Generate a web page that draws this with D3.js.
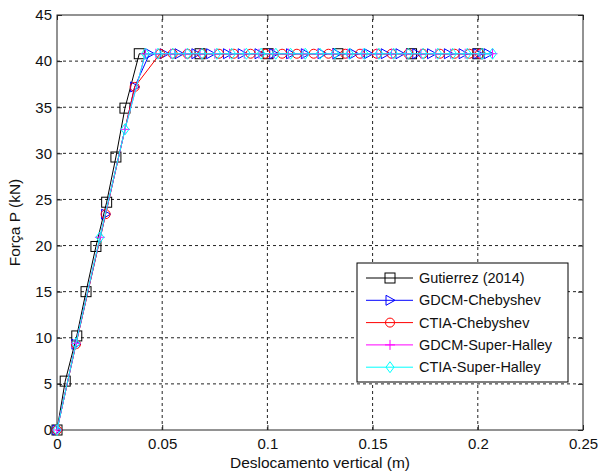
<!DOCTYPE html>
<html lang="en">
<head>
  <meta charset="UTF-8" />
  <title>Força x Deslocamento</title>
  <script src="https://d3js.org/d3.v7.min.js"></script>
  <style>
    body { margin:0; padding:0; background:#fff; font-family:"Liberation Sans", Arial, sans-serif; }
    svg { display:block; }
    .tick text { fill:#111; }
    .grid line { stroke:#222; stroke-dasharray:3,3; stroke-width:1; }
    .lbl { font-size:15.5px; fill:#111; }
    .leg { font-size:14.5px; fill:#111; }
  </style>
</head>
<body>
<svg width="598" height="475"></svg>
<script>
// Gutierrez (2014)
const gutX = [0, 0.0039, 0.0094, 0.0138, 0.0185, 0.0236, 0.028, 0.0323, 0.0391, 0.068, 0.1003, 0.1335, 0.1685, 0.2];
const gutY = [0, 5.3, 10.2, 15.0, 19.9, 24.7, 29.6, 34.9, 40.8, 40.8, 40.8, 40.8, 40.8, 40.8];
// GDCM-Chebyshev
const gdcmChX = [0, 0.009, 0.0231, 0.0369, 0.044, 0.051, 0.058, 0.066, 0.073, 0.081, 0.088, 0.096, 0.103, 0.111, 0.118, 0.126, 0.133, 0.141, 0.148, 0.156, 0.163, 0.171, 0.178, 0.186, 0.193, 0.2, 0.205];
const gdcmChY = [0, 9.3, 23.4, 37.2, 40.8, 40.8, 40.8, 40.8, 40.8, 40.8, 40.8, 40.8, 40.8, 40.8, 40.8, 40.8, 40.8, 40.8, 40.8, 40.8, 40.8, 40.8, 40.8, 40.8, 40.8, 40.8, 40.8];
// CTIA-Chebyshev
const ctiaChX = [0, 0.009, 0.0231, 0.0369, 0.049, 0.055, 0.062, 0.069, 0.077, 0.084, 0.092, 0.099, 0.107, 0.114, 0.122, 0.129, 0.137, 0.144, 0.152, 0.159, 0.167, 0.174, 0.182, 0.189, 0.196, 0.201];
const ctiaChY = [0, 9.3, 23.4, 37.2, 40.8, 40.8, 40.8, 40.8, 40.8, 40.8, 40.8, 40.8, 40.8, 40.8, 40.8, 40.8, 40.8, 40.8, 40.8, 40.8, 40.8, 40.8, 40.8, 40.8, 40.8, 40.8];
// GDCM-Super-Halley
const gdcmShX = [0, 0.009, 0.0204, 0.0323, 0.042, 0.047, 0.054, 0.061, 0.068, 0.075, 0.082, 0.089, 0.096, 0.103, 0.11, 0.117, 0.124, 0.131, 0.138, 0.145, 0.152, 0.159, 0.166, 0.173, 0.18, 0.187, 0.194, 0.201, 0.207];
const gdcmShY = [0, 9.4, 20.9, 32.6, 40.8, 40.8, 40.8, 40.8, 40.8, 40.8, 40.8, 40.8, 40.8, 40.8, 40.8, 40.8, 40.8, 40.8, 40.8, 40.8, 40.8, 40.8, 40.8, 40.8, 40.8, 40.8, 40.8, 40.8, 40.8];
// CTIA-Super-Halley
const ctiaShX = [0, 0.009, 0.0204, 0.0323, 0.042, 0.048, 0.055, 0.062, 0.069, 0.076, 0.083, 0.09, 0.097, 0.104, 0.111, 0.118, 0.125, 0.132, 0.139, 0.146, 0.153, 0.16, 0.167, 0.174, 0.181, 0.188, 0.195, 0.202, 0.207];
const ctiaShY = [0, 9.4, 20.9, 32.6, 40.8, 40.8, 40.8, 40.8, 40.8, 40.8, 40.8, 40.8, 40.8, 40.8, 40.8, 40.8, 40.8, 40.8, 40.8, 40.8, 40.8, 40.8, 40.8, 40.8, 40.8, 40.8, 40.8, 40.8, 40.8];

const xTicks = [0, 0.05, 0.1, 0.15, 0.2, 0.25];
const yTicks = [0, 5, 10, 15, 20, 25, 30, 35, 40, 45];

const series = [
  { name:"Gutierrez (2014)",   xs:gutX,    ys:gutY,    color:"#000000", marker:"square" },
  { name:"GDCM-Chebyshev",     xs:gdcmChX, ys:gdcmChY, color:"#0000ff", marker:"triangle" },
  { name:"CTIA-Chebyshev",     xs:ctiaChX, ys:ctiaChY, color:"#ff0000", marker:"circle" },
  { name:"GDCM-Super-Halley",  xs:gdcmShX, ys:gdcmShY, color:"#ff00ff", marker:"plus" },
  { name:"CTIA-Super-Halley",  xs:ctiaShX, ys:ctiaShY, color:"#00ffff", marker:"diamond" }
];

const L = 57, T = 15, R = 583, B = 430;
const x = d3.scaleLinear().domain([0, 0.25]).range([L, R]);
const y = d3.scaleLinear().domain([0, 45]).range([B, T]);
const svg = d3.select("svg");

// grid
const grid = svg.append("g").attr("class","grid");
grid.selectAll(".gx").data(xTicks.slice(1, -1)).enter().append("line")
  .attr("x1", d=>x(d)).attr("x2", d=>x(d)).attr("y1", B).attr("y2", T);
grid.selectAll(".gy").data(yTicks.slice(1, -1)).enter().append("line")
  .attr("x1", L).attr("x2", R).attr("y1", d=>y(d)).attr("y2", d=>y(d));

// axes (ticks inward on all four sides)
const tk = 5;
svg.append("g").attr("transform", `translate(0,${B})`)
  .call(d3.axisBottom(x).tickValues(xTicks).tickFormat(d3.format("~g")).tickSizeInner(-tk).tickSizeOuter(0).tickPadding(8))
  .call(g => g.select(".domain").remove());
svg.append("g").attr("transform", `translate(0,${T})`)
  .call(d3.axisTop(x).tickValues(xTicks).tickFormat("").tickSizeInner(-tk).tickSizeOuter(0))
  .call(g => g.select(".domain").remove());
svg.append("g").attr("transform", `translate(${L},0)`)
  .call(d3.axisLeft(y).tickValues(yTicks).tickSizeInner(-tk).tickSizeOuter(0).tickPadding(5))
  .call(g => g.select(".domain").remove());
svg.append("g").attr("transform", `translate(${R},0)`)
  .call(d3.axisRight(y).tickValues(yTicks).tickFormat("").tickSizeInner(-tk).tickSizeOuter(0))
  .call(g => g.select(".domain").remove());
svg.selectAll(".tick line").attr("stroke","#262626");
svg.selectAll(".tick text").attr("font-family","Liberation Sans, Arial, sans-serif").attr("font-size",15);

svg.append("rect").attr("x", L).attr("y", T).attr("width", R-L).attr("height", B-T)
  .attr("fill","none").attr("stroke","#262626").attr("stroke-width",1);

// markers
function drawMarker(g, type, cx, cy, color) {
  if (type === "square") {
    g.append("rect").attr("x", cx-5).attr("y", cy-5).attr("width",10).attr("height",10)
      .attr("fill","none").attr("stroke",color);
  } else if (type === "triangle") {
    g.append("path").attr("d", `M${cx-4},${cy-5}L${cx+5},${cy}L${cx-4},${cy+5}Z`)
      .attr("fill","none").attr("stroke",color);
  } else if (type === "circle") {
    g.append("circle").attr("cx",cx).attr("cy",cy).attr("r",4.5)
      .attr("fill","none").attr("stroke",color);
  } else if (type === "plus") {
    g.append("path").attr("d", `M${cx-5},${cy}H${cx+5}M${cx},${cy-5}V${cy+5}`)
      .attr("fill","none").attr("stroke",color);
  } else if (type === "diamond") {
    g.append("path").attr("d", `M${cx},${cy-5.5}L${cx+4},${cy}L${cx},${cy+5.5}L${cx-4},${cy}Z`)
      .attr("fill","none").attr("stroke",color);
  }
}

const line = d3.line().x(d=>x(d[0])).y(d=>y(d[1]));
series.forEach(s => {
  const pts = s.xs.map((v,i)=>[v, s.ys[i]]);
  const g = svg.append("g");
  g.append("path").attr("d", line(pts)).attr("fill","none").attr("stroke", s.color).attr("stroke-width",1);
  pts.forEach(p => drawMarker(g, s.marker, x(p[0]), y(p[1]), s.color));
});

// axis labels
svg.append("text").attr("class","lbl").attr("x", (L+R)/2).attr("y", 468)
  .attr("text-anchor","middle").text("Deslocamento vertical (m)");
svg.append("text").attr("class","lbl").attr("transform", `translate(20,${(T+B)/2}) rotate(-90)`)
  .attr("text-anchor","middle").text("Força P (kN)");

// legend
const lg = svg.append("g").attr("transform","translate(357,263)");
lg.append("rect").attr("width",211).attr("height",119).attr("fill","#fff").attr("stroke","#000");
series.forEach((s,i) => {
  const ry = 15 + i*22.3;
  lg.append("line").attr("x1",9).attr("x2",56).attr("y1",ry).attr("y2",ry).attr("stroke",s.color);
  drawMarker(lg, s.marker, 33, ry, s.color);
  lg.append("text").attr("class","leg").attr("x",62).attr("y",ry+5).text(s.name);
});
</script>
</body>
</html>
